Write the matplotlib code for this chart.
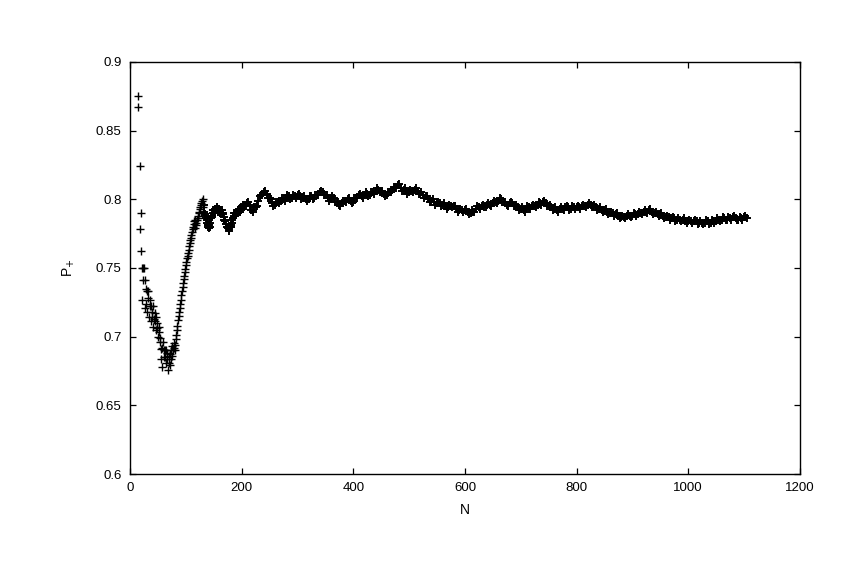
import matplotlib
matplotlib.use("Agg")
import matplotlib.pyplot as plt
from matplotlib.ticker import FuncFormatter

plt.rcParams['font.family'] = ['Liberation Sans', 'DejaVu Sans']

# ---- data ----
# early scattered part (N, P+)
n_early = [14, 15, 17, 18, 19, 20, 21, 22, 23, 24, 25, 26, 27, 28, 29, 30,
           31, 32, 33, 34, 35, 36, 37, 38, 39, 40, 41, 42, 43, 44, 45, 46,
           47, 48, 49, 50, 51, 52, 53, 54, 55, 56, 57, 58, 59, 60, 61, 62,
           63, 64, 65, 66, 67, 68, 69, 70, 71, 72, 73, 74, 75, 76, 77, 78, 79]
p_early = [0.875, 0.867, 0.824, 0.778, 0.790, 0.762, 0.750, 0.727, 0.750, 0.741,
           0.750, 0.721, 0.741, 0.724, 0.735, 0.733, 0.718, 0.728, 0.733, 0.714,
           0.722, 0.727, 0.711, 0.722, 0.714, 0.718, 0.707, 0.722, 0.713, 0.717,
           0.711, 0.705, 0.714, 0.706, 0.710, 0.700, 0.707, 0.703, 0.696, 0.699,
           0.691, 0.684, 0.692, 0.678, 0.696, 0.690, 0.685, 0.690, 0.685, 0.681,
           0.690, 0.684, 0.688, 0.676, 0.681, 0.686, 0.679, 0.687, 0.684, 0.690,
           0.686, 0.693, 0.690, 0.695, 0.692]

# steep rise, one point per N (80..131)
n_rise = list(range(80, 132))
p_rise = [0.690, 0.694, 0.698, 0.701, 0.705, 0.708, 0.712, 0.715, 0.718, 0.721,
          0.724, 0.727, 0.730, 0.733, 0.736, 0.739, 0.742, 0.744, 0.747, 0.749,
          0.752, 0.754, 0.757, 0.759, 0.761, 0.763, 0.766, 0.768, 0.770, 0.772,
          0.774, 0.776, 0.778, 0.780, 0.782, 0.784, 0.785, 0.779, 0.781, 0.783,
          0.785, 0.786, 0.788, 0.790, 0.791, 0.793, 0.794, 0.796, 0.797, 0.799,
          0.800, 0.794]

# N = 132..198, even N
n_mid_a = list(range(132, 200, 2))
p_mid_a = [0.796, 0.789, 0.786, 0.783, 0.780, 0.779, 0.783, 0.787, 0.790, 0.792,
           0.791, 0.793, 0.794, 0.791, 0.792, 0.790, 0.792, 0.790, 0.787, 0.785,
           0.782, 0.780, 0.779, 0.778, 0.780, 0.783, 0.786, 0.788, 0.790, 0.790,
           0.791, 0.792, 0.793, 0.792]
# N = 133..199, odd N
n_mid_b = list(range(133, 201, 2))
p_mid_b = [0.791, 0.788, 0.785, 0.781, 0.781, 0.780, 0.786, 0.788, 0.792, 0.790,
           0.793, 0.792, 0.793, 0.793, 0.790, 0.792, 0.790, 0.789, 0.785, 0.784,
           0.780, 0.780, 0.777, 0.780, 0.781, 0.785, 0.786, 0.790, 0.789, 0.791,
           0.790, 0.793, 0.791, 0.794]

# N = 200..1105, every 5
n_late_a = list(range(200, 1110, 5))
p_late_a = [
    0.793, 0.796, 0.797, 0.796, 0.791, 0.794, 0.799, 0.803, 0.805, 0.804,
    0.801, 0.797, 0.796, 0.798, 0.799, 0.800, 0.801, 0.802, 0.801, 0.802,
    0.803, 0.802, 0.801, 0.800, 0.800, 0.802, 0.801, 0.803, 0.805, 0.805,
    0.803, 0.801, 0.800, 0.801, 0.798, 0.796, 0.797, 0.799, 0.800, 0.799,
    0.798, 0.801, 0.803, 0.802, 0.803, 0.804, 0.803, 0.805, 0.806, 0.807,
    0.805, 0.804, 0.803, 0.805, 0.807, 0.809, 0.810, 0.808, 0.807, 0.806,
    0.805, 0.806, 0.807, 0.806, 0.804, 0.803, 0.802, 0.800, 0.799, 0.798,
    0.797, 0.797, 0.796, 0.795, 0.794, 0.795, 0.795, 0.793, 0.792, 0.792,
    0.792, 0.791, 0.790, 0.791, 0.793, 0.794, 0.795, 0.794, 0.796, 0.796,
    0.797, 0.798, 0.799, 0.800, 0.798, 0.796, 0.797, 0.797, 0.795, 0.794,
    0.793, 0.792, 0.793, 0.794, 0.795, 0.795, 0.796, 0.797, 0.798, 0.797,
    0.795, 0.794, 0.793, 0.792, 0.793, 0.793, 0.794, 0.794, 0.793, 0.794,
    0.794, 0.794, 0.795, 0.795, 0.796, 0.796, 0.795, 0.794, 0.793, 0.792,
    0.792, 0.791, 0.790, 0.790, 0.789, 0.788, 0.787, 0.787, 0.788, 0.788,
    0.788, 0.789, 0.789, 0.790, 0.791, 0.791, 0.792, 0.791, 0.790, 0.789,
    0.789, 0.788, 0.787, 0.787, 0.786, 0.786, 0.785, 0.785, 0.785, 0.784,
    0.784, 0.784, 0.784, 0.784, 0.783, 0.783, 0.783, 0.784, 0.783, 0.784,
    0.784, 0.785, 0.785, 0.786, 0.785, 0.786, 0.787, 0.786, 0.785, 0.786,
    0.787, 0.786]
# N = 202..1102, every 5 (in between the points above)
n_late_b = list(range(202, 1107, 5))
p_late_b = [
    0.796, 0.795, 0.798, 0.792, 0.794, 0.795, 0.802, 0.803, 0.806, 0.801,
    0.800, 0.795, 0.798, 0.797, 0.801, 0.799, 0.803, 0.800, 0.803, 0.801,
    0.804, 0.800, 0.802, 0.799, 0.802, 0.800, 0.803, 0.803, 0.806, 0.803,
    0.803, 0.799, 0.802, 0.798, 0.798, 0.795, 0.799, 0.798, 0.801, 0.797,
    0.801, 0.801, 0.804, 0.801, 0.805, 0.802, 0.805, 0.804, 0.808, 0.805,
    0.806, 0.802, 0.805, 0.805, 0.809, 0.808, 0.811, 0.806, 0.808, 0.804,
    0.807, 0.805, 0.808, 0.804, 0.805, 0.801, 0.802, 0.798, 0.800, 0.796,
    0.798, 0.795, 0.797, 0.793, 0.796, 0.794, 0.795, 0.791, 0.793, 0.791,
    0.793, 0.789, 0.792, 0.791, 0.795, 0.793, 0.796, 0.794, 0.797, 0.795,
    0.799, 0.797, 0.801, 0.798, 0.798, 0.795, 0.798, 0.795, 0.796, 0.792,
    0.794, 0.791, 0.795, 0.793, 0.796, 0.794, 0.798, 0.796, 0.799, 0.795,
    0.796, 0.792, 0.794, 0.791, 0.794, 0.792, 0.795, 0.792, 0.795, 0.793,
    0.795, 0.793, 0.796, 0.794, 0.797, 0.794, 0.796, 0.792, 0.794, 0.791,
    0.793, 0.789, 0.791, 0.788, 0.790, 0.786, 0.788, 0.786, 0.789, 0.787,
    0.790, 0.788, 0.791, 0.789, 0.792, 0.790, 0.793, 0.789, 0.791, 0.788,
    0.790, 0.786, 0.788, 0.785, 0.787, 0.784, 0.786, 0.784, 0.786, 0.783,
    0.785, 0.783, 0.785, 0.782, 0.784, 0.782, 0.785, 0.782, 0.785, 0.783,
    0.786, 0.784, 0.787, 0.785, 0.787, 0.785, 0.788, 0.785, 0.787, 0.785,
    0.788]

x_ticks = [0, 200, 400, 600, 800, 1000, 1200]
y_ticks = [0.6, 0.65, 0.7, 0.75, 0.8, 0.85, 0.9]

# ---- figure ----
fig = plt.figure(figsize=(8.5, 5.67), dpi=100)
ax = fig.add_axes([0.153, 0.164, 0.788, 0.727])

ax.plot(n_early + n_rise, p_early + p_rise, linestyle='none', marker='+',
        color='black', markersize=5.4, markeredgewidth=1.0)
ax.plot(n_mid_a + n_mid_b + n_late_a + n_late_b,
        p_mid_a + p_mid_b + p_late_a + p_late_b, linestyle='none', marker='+',
        color='black', markersize=6.0, markeredgewidth=1.4)

ax.set_xlim(0, 1200)
ax.set_ylim(0.6, 0.9)
ax.set_xticks(x_ticks)
ax.set_yticks(y_ticks)
ax.yaxis.set_major_formatter(FuncFormatter(lambda v, p: ('%g' % round(v, 3))))
ax.tick_params(direction='in', length=4.5, width=0.9, top=True, right=True,
               labelsize=9.5, pad=6)
for s in ax.spines.values():
    s.set_linewidth(1.0)

ax.set_xlabel('N', fontsize=10, labelpad=6)
ax.set_ylabel(r'P$_{+}$', fontsize=10, labelpad=14)

fig.savefig('out.png', dpi=100)
